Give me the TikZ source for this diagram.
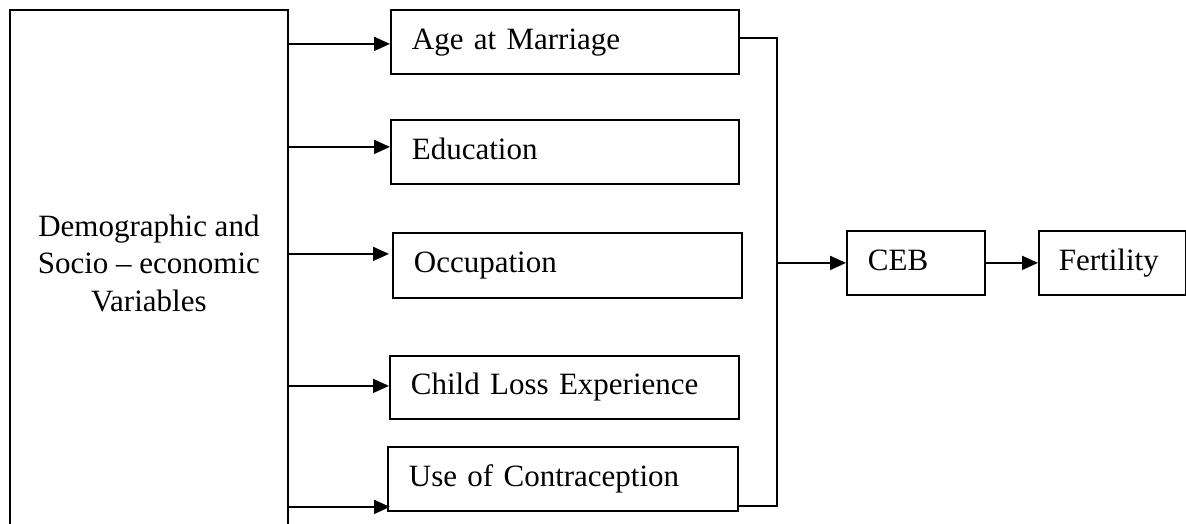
\documentclass[tikz,border=0pt]{standalone}
\usepackage{fontspec}
\setmainfont{Liberation Serif}
\usetikzlibrary{arrows.meta,calc}
\tikzset{
  varbox/.style={draw,line width=1.8pt,anchor=north west,inner xsep=21pt,
                 text width=#1,align=left,text height=22pt,text depth=7pt},
  conn/.style={line width=1.8pt},
  arr/.style={conn,-{Triangle[length=16pt,width=14pt]}}
}

\begin{document}
\begin{tikzpicture}[x=1pt,y=-1pt,font=\fontsize{31}{37.5}\selectfont]
  \clip (0,0) rectangle (1186,523);
  \node[draw,line width=1.8pt,anchor=north west,minimum width=278pt,minimum height=560pt,inner sep=0pt](Demo) at (9,9){};
  \node[align=center](Demotxt) at ([yshift=-254pt]Demo.north){Demographic and\\Socio -- economic\\Variables};
  \node[varbox=306pt,minimum height=64pt](Age) at (390,9){Age at Marriage};
  \node[varbox=306pt,minimum height=64pt](Edu) at (390,119){Education};
  \node[varbox=307pt,minimum height=65pt](Occ) at (392,232){Occupation};
  \node[varbox=307pt,minimum height=63pt](Loss) at (389,355){Child Loss Experience};
  \node[varbox=308pt,minimum height=64pt](Contr) at (387,446){Use of Contraception};
  \node[varbox=96pt,minimum height=64pt](CEB) at (846,230){CEB};
  \node[varbox=107pt,minimum height=64pt,inner xsep=20pt](Fert) at (1038,230){Fertility};
  \coordinate (Bus) at (777,263);
  %\draw[conn] (Demo.east) -- (Bus);
  \draw[arr] ([yshift=-2pt]Age.west -| Demo.east) -- ([yshift=-2pt]Age.west);
  \draw[arr] ([yshift=5pt]Edu.west -| Demo.east) -- ([yshift=5pt]Edu.west);
  \draw[arr] ([yshift=11.5pt]Occ.west -| Demo.east) -- ([xshift=-3pt,yshift=11.5pt]Occ.west);
  \draw[arr] ([yshift=1.5pt]Loss.west -| Demo.east) -- ([yshift=1.5pt]Loss.west);
  \draw[arr] ([yshift=-28pt]Contr.west -| Demo.east) -- ([xshift=3pt,yshift=-28pt]Contr.west);
  \draw[conn] ([xshift=-2pt,yshift=4pt]Age.east) -| (Bus) |- ([yshift=-27pt]Contr.east);
  \draw[arr] (Bus) -- (CEB.west);
  \draw[arr] (CEB) -- (Fert);
\end{tikzpicture}
\end{document}
